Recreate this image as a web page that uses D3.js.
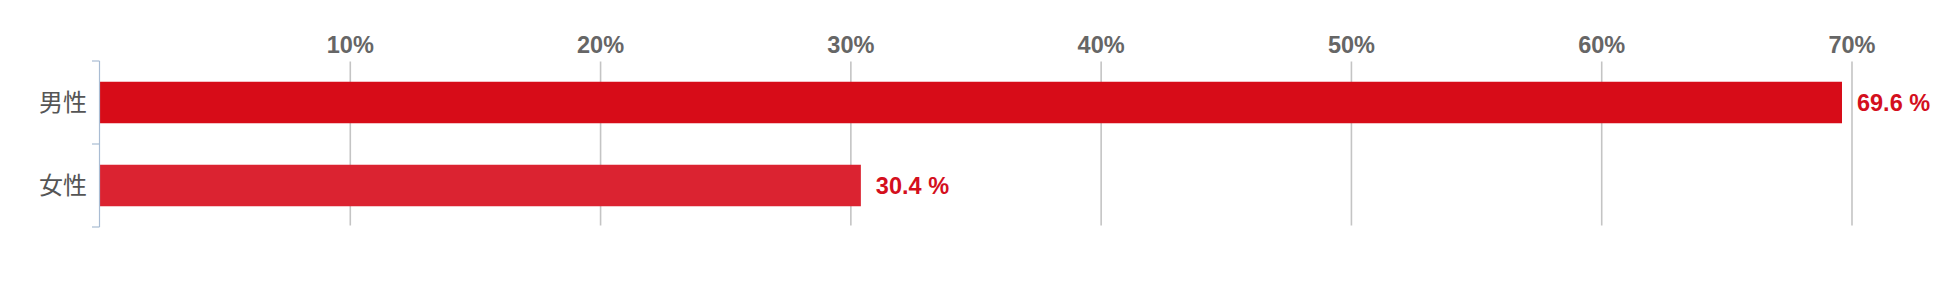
<!DOCTYPE html>
<html><head><meta charset="utf-8">
<script src="https://cdn.jsdelivr.net/npm/d3@7"></script>
<style>body{margin:0;background:#fff;}svg{display:block;}</style>
</head><body>
<script>
const categories = ["男性", "女性"];
const values = [69.6, 30.4];
const tickValues = [10, 20, 30, 40, 50, 60, 70];
const valueLabels = ["69.6 %", "30.4 %"];
const barColors = ["#d70c18", "#db2331"];

const W = 1950, H = 303;
const svg = d3.select("body").append("svg").attr("width", W).attr("height", H);

const x = d3.scaleLinear().domain([0, 70]).range([100, 1852]);
const y = d3.scaleBand().domain(categories).range([61, 227]).paddingInner(0.5).paddingOuter(0.25);

// gridlines
svg.append("g").selectAll("line").data(tickValues).join("line")
  .attr("x1", d => x(d)).attr("x2", d => x(d))
  .attr("y1", 61.5).attr("y2", 225.5)
  .attr("stroke", "#c4c4c4").attr("stroke-width", 1.6);

// tick labels
svg.append("g").selectAll("text").data(tickValues).join("text")
  .attr("x", d => x(d)).attr("y", 52.5)
  .attr("text-anchor", "middle")
  .attr("font-family", "Liberation Sans, Arial, sans-serif")
  .attr("font-weight", "bold").attr("font-size", 23.5)
  .attr("fill", "#666")
  .text(d => d + "%");

// bars
svg.append("g").selectAll("rect").data(values).join("rect")
  .attr("x", x(0)).attr("y", (d, i) => y(categories[i]))
  .attr("width", d => x(d) - x(0)).attr("height", y.bandwidth())
  .attr("fill", (d, i) => barColors[i]);

// left axis
const axisColor = "#a9bcd3";
const bounds = [y.range()[0], (y.range()[0] + y.range()[1]) / 2, y.range()[1]];
svg.append("line").attr("x1", 99.5).attr("x2", 99.5)
  .attr("y1", y.range()[0]).attr("y2", y.range()[1])
  .attr("stroke", axisColor).attr("stroke-width", 1.2);
svg.append("g").selectAll("line").data(bounds).join("line")
  .attr("x1", 92).attr("x2", 99.5).attr("y1", d => d).attr("y2", d => d)
  .attr("stroke", axisColor).attr("stroke-width", 1.2);

// category labels
svg.append("g").selectAll("text").data(categories).join("text")
  .attr("x", 87).attr("y", d => y(d) + y.bandwidth() / 2 + 2)
  .attr("dominant-baseline", "middle")
  .attr("text-anchor", "end")
  .attr("font-family", "Noto Sans CJK JP, sans-serif")
  .attr("font-size", 24).attr("fill", "#555")
  .text(d => d);

// value labels
svg.append("g").selectAll("text").data(values).join("text")
  .attr("x", d => x(d) + 15)
  .attr("y", (d, i) => y(categories[i]) + y.bandwidth() / 2 + 8.5)
  .attr("font-family", "Liberation Sans, Arial, sans-serif")
  .attr("font-weight", "bold").attr("font-size", 23.5)
  .attr("fill", "#d40f1d")
  .text((d, i) => valueLabels[i]);
</script>
</body></html>
